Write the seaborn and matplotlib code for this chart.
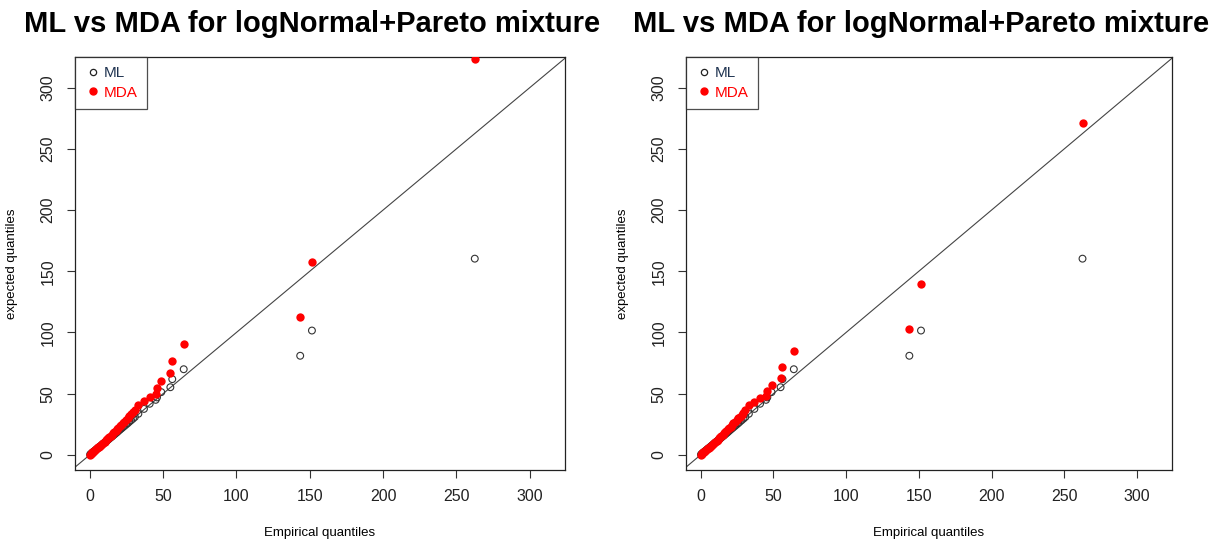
import numpy as np
import pandas as pd
import matplotlib
matplotlib.use("Agg")
import matplotlib.pyplot as plt
from matplotlib.lines import Line2D
import seaborn as sns

# empirical quantiles (shared by both panels)
empirical = [0.3, 0.8, 1.3, 1.9, 2.5, 3.1, 3.8, 4.4, 5.1, 5.8, 6.5, 7.2, 7.9, 8.7,
             9.4, 10.2, 11.0, 11.8, 12.6, 13.4, 14.3, 15.1, 16.0, 16.9, 17.8, 18.7,
             19.6, 20.6, 21.6, 22.6, 23.7, 24.8, 25.9, 27.0, 28.2, 29.5, 30.8, 33.2,
             37.0, 40.9, 45.0, 45.9, 48.8, 55.0, 56.3, 64.1, 143.5, 151.5, 262.5]

# expected quantiles, ML fit
ml_expected = [0.3, 0.8, 1.3, 1.9, 2.5, 3.1, 3.7, 4.4, 5.0, 5.7, 6.4, 7.1, 7.8, 8.6,
               9.3, 10.1, 10.9, 11.7, 12.5, 13.3, 14.2, 15.0, 15.9, 16.8, 17.7, 18.6,
               19.6, 20.6, 21.6, 22.6, 23.7, 24.8, 25.9, 27.1, 28.3, 29.6, 31.0, 33.6,
               37.6, 41.8, 45.0, 47.0, 51.3, 55.3, 61.9, 70.0, 81.0, 101.6, 160.3]

# expected quantiles, MDA fit (left panel)
mda_left = [0.3, 0.8, 1.3, 2.0, 2.6, 3.2, 3.9, 4.6, 5.3, 6.1, 6.8, 7.6, 8.4, 9.3,
            10.0, 10.9, 11.8, 12.7, 13.6, 14.6, 15.6, 16.6, 17.7, 18.8, 19.9, 21.0,
            22.1, 23.4, 24.6, 25.9, 27.3, 28.7, 30.0, 31.6, 33.1, 34.9, 37.0, 41.1,
            43.9, 47.2, 50.0, 54.5, 60.5, 67.0, 76.6, 90.8, 112.6, 157.8, 323.0]

# expected quantiles, MDA fit (right panel)
mda_right = [0.3, 0.8, 1.3, 2.0, 2.6, 3.2, 3.9, 4.6, 5.3, 6.0, 6.8, 7.6, 8.4, 9.2,
             10.0, 10.8, 11.7, 12.6, 13.5, 14.5, 15.5, 16.5, 17.6, 18.7, 19.8, 20.9,
             22.0, 23.2, 24.4, 25.7, 27.1, 28.5, 29.8, 31.3, 32.8, 34.5, 36.5, 40.9,
             43.0, 46.3, 48.0, 52.3, 57.5, 63.2, 72.2, 84.5, 102.8, 140.0, 271.5]

ticks = [0, 50, 100, 150, 200, 250, 300]
title = "ML vs MDA for logNormal+Pareto mixture"

sns.set_style("ticks")
plt.rcParams['font.family'] = ['Liberation Sans', 'DejaVu Sans']
plt.rcParams['text.color'] = 'black'
plt.rcParams['axes.labelcolor'] = 'black'

fig = plt.figure(figsize=(12.19, 5.43), dpi=100)
axes = [fig.add_axes([75 / 1219, 73 / 543, 490 / 1219, 413 / 543]),
        fig.add_axes([686 / 1219, 73 / 543, 486 / 1219, 413 / 543])]

for ax, mda in zip(axes, [mda_left, mda_right]):
    df = pd.DataFrame({"emp": empirical, "ml": ml_expected, "mda": mda})
    ax.axline((0, 0), slope=1, color="#444444", lw=0.8, zorder=1)
    sns.scatterplot(data=df, x="emp", y="ml", ax=ax, marker="o", s=24,
                    facecolor="none", edgecolor="#333333", linewidth=0.8, zorder=2)
    sns.scatterplot(data=df, x="emp", y="mda", ax=ax, marker="o", s=36,
                    color="#ff0000", edgecolor="#ff0000", linewidth=0, zorder=3)
    ax.set_xlim(-10, 324)
    ax.set_ylim(-12.3, 325)
    ax.set_xticks(ticks)
    ax.set_yticks(ticks)
    ax.tick_params(length=6, width=0.8, labelsize=11.5, color="#333333",
                   labelcolor="#222222", pad=8)
    for lab in ax.get_yticklabels():
        lab.set_rotation(90)
        lab.set_va("center")
    for sp in ax.spines.values():
        sp.set_visible(True)
        sp.set_color("#222222")
        sp.set_linewidth(0.9)
    ax.set_xlabel("Empirical quantiles", fontsize=9.5, labelpad=16)
    ax.set_ylabel("expected quantiles", fontsize=9.5, labelpad=16)
    t = ax.set_title(title, fontsize=21, fontweight="bold", pad=18, color="black")
    t.set_x(0.5 - 7.5 / 490)

    handles = [Line2D([], [], marker="o", ls="none", mfc="none", mec="#222222",
                      ms=4.5, mew=0.9),
               Line2D([], [], marker="o", ls="none", mfc="#ff0000", mec="#ff0000",
                      ms=5)]
    leg = ax.legend(handles, ["ML", "MDA"], loc="upper left", borderaxespad=0,
                    frameon=True, fancybox=False, fontsize=11,
                    labelcolor=["#1f3350", "#ff0000"], handletextpad=0.1,
                    handlelength=1.2, borderpad=0.6, labelspacing=0.35)
    leg.get_frame().set_edgecolor("#222222")
    leg.get_frame().set_linewidth(0.9)

fig.savefig("out.png", dpi=100)
